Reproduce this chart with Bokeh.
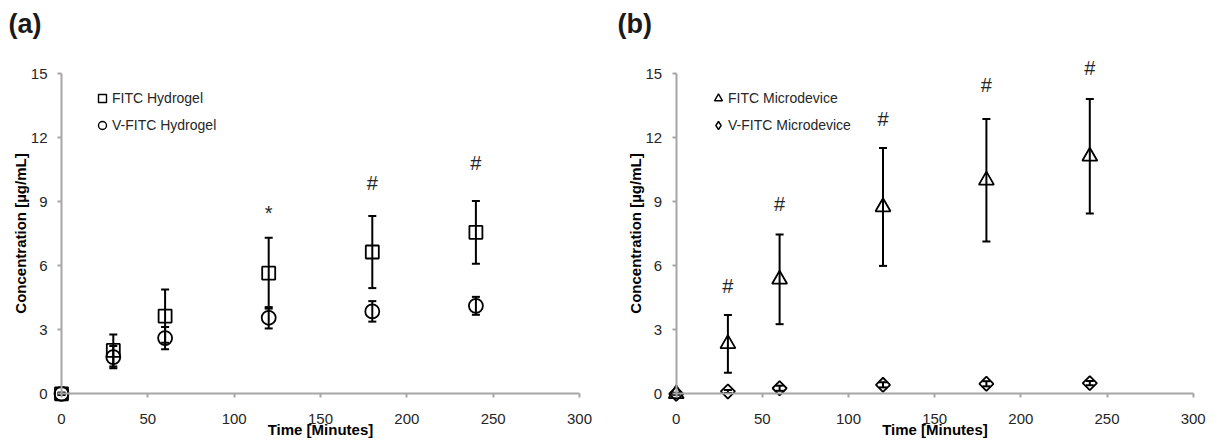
from bokeh.plotting import figure
from bokeh.models import (Range1d, LinearAxis, FixedTicker, Whisker, TeeHead,
                          ColumnDataSource, Legend, LegendItem, Label)
from bokeh.layouts import row
from bokeh.embed import file_html
from bokeh.resources import INLINE
from bokeh.core.properties import value
import math

# ---------------- data ----------------
time = [0, 30, 60, 120, 180, 240]

fitc_hydrogel = [0.0, 2.03, 3.64, 5.65, 6.64, 7.56]
fitc_hydrogel_err = [0.05, 0.75, 1.25, 1.66, 1.69, 1.47]
vfitc_hydrogel = [0.0, 1.72, 2.61, 3.56, 3.86, 4.12]
vfitc_hydrogel_err = [0.05, 0.52, 0.52, 0.50, 0.48, 0.42]

fitc_micro = [0.0, 2.34, 5.36, 8.75, 10.0, 11.12]
fitc_micro_err = [0.05, 1.35, 2.10, 2.76, 2.87, 2.68]
vfitc_micro = [0.0, 0.11, 0.26, 0.42, 0.47, 0.50]
vfitc_micro_err = [0.02, 0.07, 0.12, 0.12, 0.12, 0.10]

sig_a_x = [120, 180, 240]
sig_a_y = [8.45, 9.85, 10.79]
sig_a_text = ["*", "#", "#"]

sig_b_x = [30, 60, 120, 180, 240]
sig_b_y = [5.03, 8.89, 12.85, 14.46, 15.28]
sig_b_text = ["#", "#", "#", "#", "#"]

x_ticks = [0, 50, 100, 150, 200, 250, 300]
x_tick_labels = ["0", "50", "100", "150", "200", "250", "300"]
y_ticks = [0, 3, 6, 9, 12, 15]
y_tick_labels = ["0", "3", "6", "9", "12", "15"]

x_title = "Time [Minutes]"
y_title = "Concentration [µg/mL]"

# ---------------- styling / layout ----------------
FONT = "Liberation Sans"
FIG_W, FIG_H = 609, 441
Y0_PX, Y15_PX = 393.3, 73.0
AXIS_COLOR = "#a6a6a6"
TEXT_COLOR = "#262626"


def make_panel(label, zero_px, x300_px, series, leg_left, leg_standoff,
               sig_x, sig_y, sig_t):
    sx = (x300_px - zero_px) / 300.0
    sy = (Y0_PX - Y15_PX) / 15.0
    # the frame covers the whole figure; ranges map data onto the reference pixels
    x_start = -zero_px / sx
    x_end = 300 + (FIG_W - x300_px) / sx
    y_start = -(FIG_H - Y0_PX) / sy
    y_end = 15 + Y15_PX / sy

    p = figure(width=FIG_W, height=FIG_H, output_backend="svg", toolbar_location=None,
               x_range=Range1d(x_start, x_end), y_range=Range1d(y_start, y_end),
               x_axis_location=None, y_axis_location=None, min_border=0,
               background_fill_color="white", border_fill_color="white")
    p.title.text = ""
    p.title.visible = False
    p.outline_line_color = None
    p.grid.visible = False

    xaxis = LinearAxis(fixed_location=0, bounds=(0, 300),
                       ticker=FixedTicker(ticks=x_ticks),
                       major_label_overrides={t: l for t, l in zip(x_ticks, x_tick_labels)},
                       axis_label=x_title)
    yaxis = LinearAxis(fixed_location=0, bounds=(0, 15),
                       ticker=FixedTicker(ticks=y_ticks),
                       major_label_overrides={t: l for t, l in zip(y_ticks, y_tick_labels)},
                       axis_label=y_title)
    for ax in (xaxis, yaxis):
        ax.axis_line_color = AXIS_COLOR
        ax.axis_line_width = 2
        ax.major_tick_line_color = AXIS_COLOR
        ax.major_tick_line_width = 2
        ax.major_tick_out = 4
        ax.major_tick_in = 0
        ax.minor_tick_out = 0
        ax.minor_tick_in = 0
        ax.major_label_text_font = FONT
        ax.major_label_text_font_size = "15px"
        ax.major_label_text_color = TEXT_COLOR
        ax.axis_label_text_font = FONT
        ax.axis_label_text_font_size = "15px"
        ax.axis_label_text_font_style = "bold"
        ax.axis_label_text_color = "black"
    xaxis.major_label_standoff = 16
    xaxis.axis_label_standoff = -6
    yaxis.major_label_standoff = 10
    yaxis.axis_label_standoff = -1
    p.add_layout(xaxis, "below")
    p.add_layout(yaxis, "left")

    items = []
    for s in series:
        lower = [v - e for v, e in zip(s["y"], s["err"])]
        upper = [v + e for v, e in zip(s["y"], s["err"])]
        src = ColumnDataSource(dict(x=time, y=s["y"], lower=lower, upper=upper))
        p.add_layout(Whisker(source=src, base="x", lower="lower", upper="upper",
                             line_color="black", line_width=2,
                             lower_head=TeeHead(size=8, line_width=2, line_color="black"),
                             upper_head=TeeHead(size=8, line_width=2, line_color="black")))
        p.scatter(x="x", y="y", source=src, marker=s["marker"], size=s["size"],
                  angle=s.get("angle", 0), line_color="black", line_width=1.8,
                  fill_color=None)
        dummy = p.scatter(x=[float("nan")], y=[float("nan")], marker=s["lmarker"],
                          line_color="black", line_width=1.4, fill_color=None)
        items.append(LegendItem(label=s["label"], renderers=[dummy]))

    sig_src = ColumnDataSource(dict(x=sig_x, y=sig_y, t=sig_t))
    p.text(x="x", y="y", text="t", source=sig_src, text_font=value(FONT),
           text_font_size=value("20px"), text_align="center", text_baseline="middle",
           text_color=TEXT_COLOR)

    legend_top_px = 87.7
    legend_h = 47
    legend = Legend(items=items,
                    location=(leg_left, FIG_H - legend_top_px - legend_h),
                    padding=0, margin=0, spacing=7, glyph_width=20, glyph_height=20,
                    label_height=20, label_standoff=leg_standoff,
                    label_text_font=FONT, label_text_font_size="14px",
                    label_text_color=TEXT_COLOR,
                    border_line_color=None, background_fill_alpha=0)
    p.add_layout(legend, "center")

    p.add_layout(Label(x=8, y=FIG_H - 8, x_units="screen", y_units="screen",
                       text=label, text_font=FONT, text_font_size="27px",
                       text_font_style="bold", text_color="#1a1a1a",
                       text_baseline="top", text_align="left"))
    return p


series_a = [
    dict(y=fitc_hydrogel, err=fitc_hydrogel_err, marker="square", size=13,
         lmarker="square", label="FITC Hydrogel"),
    dict(y=vfitc_hydrogel, err=vfitc_hydrogel_err, marker="circle", size=14,
         lmarker="circle", label="V-FITC Hydrogel"),
]
series_b = [
    dict(y=fitc_micro, err=fitc_micro_err, marker="triangle", size=15,
         lmarker="triangle", label="FITC Microdevice"),
    dict(y=vfitc_micro, err=vfitc_micro_err, marker="square", angle=math.pi / 4, size=10,
         lmarker="diamond", label="V-FITC Microdevice"),
]

pa = make_panel("(a)", 61.0, 579.0, series_a, 92, -7, sig_a_x, sig_a_y, sig_a_text)
pb = make_panel("(b)", 66.7, 583.7, series_b, 99, -6, sig_b_x, sig_b_y, sig_b_text)

layout = row(pa, pb)
open("out.html", "w").write(file_html(layout, INLINE))
